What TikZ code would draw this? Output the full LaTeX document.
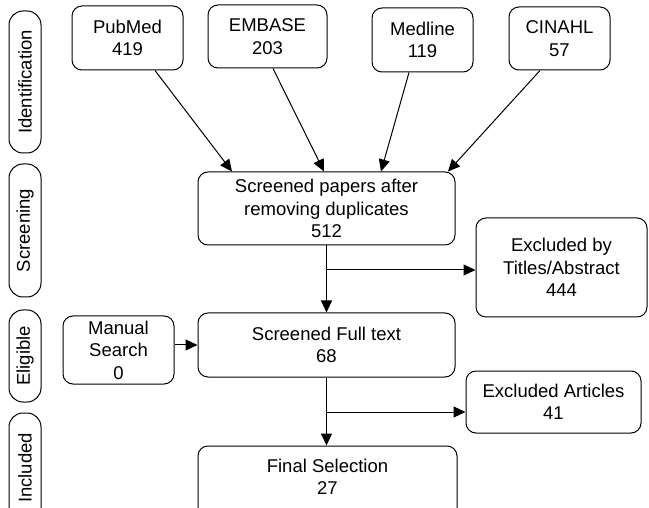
\documentclass[tikz,border=0pt]{standalone}
\usepackage{fontspec}
\setmainfont{Liberation Sans}
\usetikzlibrary{arrows.meta}

\begin{document}
\begin{tikzpicture}[x=1pt, y=-1pt, line width=1pt,
  box/.style={draw, rounded corners=10pt, align=center, inner sep=2pt,
    font=\fontsize{18.5}{22.5}\selectfont},
  side/.style={draw, rounded corners=14pt, rotate=90, minimum height=32pt,
    inner sep=0pt, font=\fontsize{18.5}{22.5}\selectfont},
  arr/.style={-{Triangle[length=12pt,width=11pt]}}]
 	\useasboundingbox (0,0) rectangle (649,508);
 	% Stages
 	\node[side, minimum width=142pt] (ident) at (25,82) {Identification};
 	\node[side, minimum width=133pt] (screen) at (25,230.5) {Screening};
 	\node[side, minimum width=92pt] (elig) at (25,356) {Eligible};
 	\node[side, minimum width=110pt] (incl) at (25,468) {Included};
 	% Databases
 	\node[box, minimum width=111pt, minimum height=64pt] (pub) at (127.5,38) {PubMed\\419};
 	\node[box, minimum width=119pt, minimum height=63pt] (emb) at (267.5,36.5) {EMBASE\\203};
 	\node[box, minimum width=101pt, minimum height=64pt] (med) at (422.5,40) {Medline\\119};
 	\node[box, minimum width=101pt, minimum height=63pt] (cin) at (559.5,38.5) {CINAHL\\57};
 	% Flow
 	\node[box, minimum width=257pt, minimum height=73pt] (scr) at (326.5,208.5) {Screened papers after\\removing duplicates\\512};
 	\node[box, minimum width=171pt, minimum height=99pt] (exta) at (561.5,267.5) {Excluded by\\Titles/Abstract\\444};
 	\node[box, minimum width=257pt, minimum height=64pt] (full) at (326.5,345) {Screened Full text\\68};
 	\node[box, minimum width=111pt, minimum height=68pt] (man) at (118.5,350) {Manual\\Search\\0};
 	\node[box, minimum width=175pt, minimum height=62pt] (exart) at (553.5,402) {Excluded Articles\\41};
 	\node[box, minimum width=259pt, minimum height=76pt, text depth=14pt] (fin) at (327.5,484) {Final Selection\\27};
 	% Edges
 	\draw[arr] ([xshift=27.5pt]pub.south) -- ([xshift=-94.5pt]scr.north);
 	\draw[arr] ([xshift=5.5pt]emb.south) -- ([xshift=-2.5pt]scr.north);
 	\draw[arr] ([xshift=-13.5pt]med.south) -- ([xshift=54.5pt]scr.north);
 	\draw[arr] ([xshift=-19.5pt]cin.south) -- ([xshift=121.5pt]scr.north);
 	\draw[arr] (scr.south) -- (full.north);
 	\draw[arr] ([yshift=-2.5pt]scr.south |- exta.west) -- ([yshift=-2.5pt]exta.west);
 	\draw[arr] (full.west -| man.east) -- (full.west);
 	\draw[arr] (full.south) -- (full.south |- fin.north);
 	\draw[arr] ([yshift=-10pt]full.south |- exart.west) -- ([yshift=-10pt]exart.west);
 \end{tikzpicture}
\end{document}
